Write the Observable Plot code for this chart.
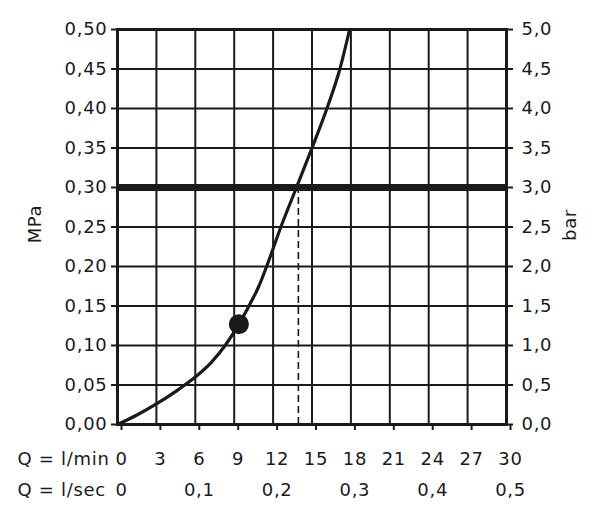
<!DOCTYPE html>
<html>
<head>
<meta charset="utf-8">
<script src="https://cdn.jsdelivr.net/npm/d3@7"></script>
<script src="https://cdn.jsdelivr.net/npm/@observablehq/plot@0.6"></script>
<style>
  html, body { margin: 0; padding: 0; background: #fff; }
</style>
</head>
<body>
<div id="chart"></div>
<script>
// Flow (l/min) vs pressure (MPa) curve
const flowLmin = [0, 1.5, 3, 4.5, 6, 7.2, 8.3, 9.36, 10.2, 10.9, 11.5, 12.6, 13.8, 15.0, 16.15, 17.15, 17.9];
const pressureMPa = [0, 0.012, 0.026, 0.042, 0.060, 0.078, 0.100, 0.127, 0.152, 0.175, 0.200, 0.250, 0.300, 0.350, 0.400, 0.450, 0.500];

// Marked operating point
const markerFlow = [9.36];
const markerPressure = [0.127];

// Reference pressure (thick line) and dashed flow reading
const refPressure = [0.30];
const dashedFlow = [13.95];

// Tick values and labels
const xTicks = [0, 3, 6, 9, 12, 15, 18, 21, 24, 27, 30];
const yTicks = [0, 0.05, 0.10, 0.15, 0.20, 0.25, 0.30, 0.35, 0.40, 0.45, 0.50];
const secTickFlow = [0, 6, 12, 18, 24, 30];
const secTickLabels = ["0", "0,1", "0,2", "0,3", "0,4", "0,5"];
const rowLabels = ["Q = l/min", "Q = l/sec"];
const leftLabel = "MPa";
const rightLabel = "bar";

const curve = flowLmin.map((x, i) => ({x, y: pressureMPa[i]}));
const marker = markerFlow.map((x, i) => ({x, y: markerPressure[i]}));
const dashed = dashedFlow.map(x => ({x, y1: 0, y2: refPressure[0]}));
const secMap = new Map(secTickFlow.map((d, i) => [d, secTickLabels[i]]));

const ink = "#1a1a1a";
const fs = 18;

const chart = Plot.plot({
  width: 600,
  height: 520,
  marginLeft: 117,
  marginRight: 94,
  marginTop: 29,
  marginBottom: 96,
  style: {fontFamily: "DejaVu Sans", fontSize: fs + "px", color: ink, background: "#fff", letterSpacing: "0.7px"},
  x: {domain: [0, 30]},
  y: {domain: [0, 0.5]},
  marks: [
    Plot.gridX(xTicks, {stroke: ink, strokeOpacity: 1, strokeWidth: 2}),
    Plot.gridY(yTicks, {stroke: ink, strokeOpacity: 1, strokeWidth: 2}),
    Plot.frame({stroke: ink, strokeWidth: 3}),
    Plot.ruleY(refPressure, {stroke: ink, strokeWidth: 7}),
    Plot.ruleX(dashed, {x: "x", y1: "y1", y2: "y2", stroke: ink, strokeWidth: 1.6, strokeDasharray: "7,4"}),
    Plot.line(curve, {x: "x", y: "y", stroke: ink, strokeWidth: 3.2, curve: "monotone-x"}),
    Plot.dot(marker, {x: "x", y: "y", r: 10, fill: ink, stroke: "none"}),
    Plot.axisY(yTicks, {anchor: "left", label: null, tickSize: 6, tickPadding: 4, strokeWidth: 2,
      fontSize: fs, tickFormat: d => d.toFixed(2).replace(".", ",")}),
    Plot.axisY(yTicks, {anchor: "right", label: null, tickSize: 6, tickPadding: 9, strokeWidth: 2,
      fontSize: fs, tickFormat: d => (d * 10).toFixed(1).replace(".", ",")}),
    Plot.axisX(xTicks, {anchor: "bottom", label: null, tickSize: 6, tickPadding: 22, strokeWidth: 2,
      fontSize: fs, dx: 4, tickFormat: d => String(d)}),
    Plot.axisX(secTickFlow, {anchor: "bottom", label: null, tickSize: 0, tickPadding: 59,
      fontSize: fs, dx: 4, tickFormat: d => secMap.get(d)}),
    Plot.text([rowLabels[0]], {frameAnchor: "bottom-left", text: d => d, textAnchor: "start",
      lineAnchor: "top", dx: -100, dy: 28, fontSize: fs, fill: ink}),
    Plot.text([rowLabels[1]], {frameAnchor: "bottom-left", text: d => d, textAnchor: "start",
      lineAnchor: "top", dx: -100, dy: 59, fontSize: fs, fill: ink}),
    Plot.text([leftLabel], {frameAnchor: "left", text: d => d, rotate: -90, textAnchor: "middle",
      lineAnchor: "middle", dx: -82, dy: -3, fontSize: fs, fill: ink}),
    Plot.text([rightLabel], {frameAnchor: "right", text: d => d, rotate: -90, textAnchor: "middle",
      lineAnchor: "middle", dx: 64, dy: -2, fontSize: fs, fill: ink})
  ]
});
document.getElementById("chart").appendChild(chart);
</script>
</body>
</html>
